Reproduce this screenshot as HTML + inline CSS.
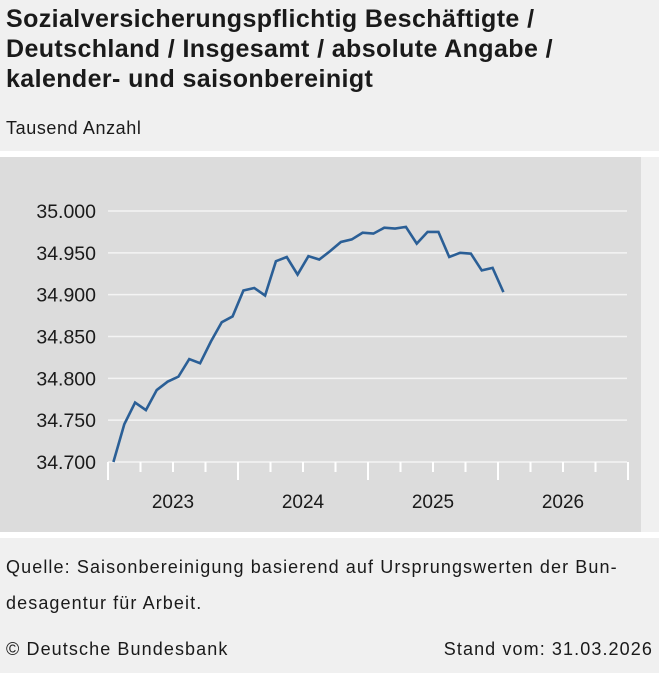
<!DOCTYPE html>
<html><head><meta charset="utf-8"><style>
body{margin:0;width:659px;height:673px;background:#f0f0f0;font-family:"Liberation Sans","DejaVu Sans",sans-serif;color:#1a1a1a;overflow:hidden;position:relative}
.t{position:absolute;left:6px;top:4px;font-size:25px;font-weight:bold;line-height:30px;letter-spacing:0.4px;white-space:nowrap}
.u{position:absolute;left:6px;top:118px;font-size:18px;letter-spacing:0.6px}
.sep{position:absolute;left:0;width:659px;height:6px;background:#fff}
.f{position:absolute;font-size:18px;line-height:36px;letter-spacing:1.1px;white-space:nowrap}
</style></head><body>
<div class="t">Sozialversicherungspflichtig Beschäftigte /<br>Deutschland / Insgesamt / absolute Angabe /<br>kalender- und saisonbereinigt</div>
<div class="u">Tausend Anzahl</div>
<div class="sep" style="top:151px"></div>
<svg style="position:absolute;left:0;top:157px" width="641" height="376">
<rect width="641" height="376" fill="#dcdcdc"/>
<g id="g"></g></svg>
<div class="sep" style="top:532px"></div>
<div class="f" style="left:6px;top:549px">Quelle: Saisonbereinigung basierend auf Ursprungswerten der Bun-<br>desagentur für Arbeit.</div>
<div class="f" style="left:6px;top:631px">© Deutsche Bundesbank</div>
<div class="f" style="right:6px;top:631px">Stand vom: 31.03.2026</div>
<script>
const yTicks=[34700,34750,34800,34850,34900,34950,35000];
const yLabels=["34.700","34.750","34.800","34.850","34.900","34.950","35.000"];
const years=["2023","2024","2025","2026"];
const values=[34700,34745,34771,34762,34786,34796,34802,34823,34818,34844,34867,34874,34905,34908,34899,34940,34945,34924,34946,34942,34952,34963,34966,34974,34973,34980,34979,34981,34961,34975,34975,34945,34950,34949,34929,34932,34903];
const NS="http://www.w3.org/2000/svg",g=document.getElementById('g');
const x0=108,yearW=130,oy=157;
const X=m=>x0+(m+0.5)*yearW/12;
const Y=v=>462-oy-(v-34700)*(251/300);
function mk(t,a){const e=document.createElementNS(NS,t);for(const k in a)e.setAttribute(k,a[k]);g.appendChild(e);return e;}
yTicks.forEach((v,i)=>{
 const l=mk('line',{x1:x0,x2:627,y1:Y(v),y2:Y(v),stroke:'#f4f4f4','stroke-width':1.5});
 
 
 const t=mk('text',{x:96,y:Y(v)+7,'text-anchor':'end','font-size':19.5,fill:'#1a1a1a'});
 t.textContent=yLabels[i];
 
 
});
for(let q=0;q<=years.length*4;q++){
 const x=x0+q*yearW/4, major=q%4===0;
 const l=mk('line',{x1:x,x2:x,y1:Y(34700),y2:Y(34700)+(major?18:10),stroke:'#fff','stroke-width':2});
 
 
}
years.forEach((yr,i)=>{
 const t=mk('text',{x:x0+(i+0.5)*yearW,y:Y(34700)+46,'text-anchor':'middle','font-size':19,fill:'#1a1a1a'});
 t.textContent=yr;
 
 
});
const p=mk('polyline',{points:values.map((v,i)=>X(i)+','+Y(v)).join(' '),fill:'none',stroke:'#2b5f96','stroke-width':2.6,'stroke-linejoin':'miter'});


</script>
</body></html>
